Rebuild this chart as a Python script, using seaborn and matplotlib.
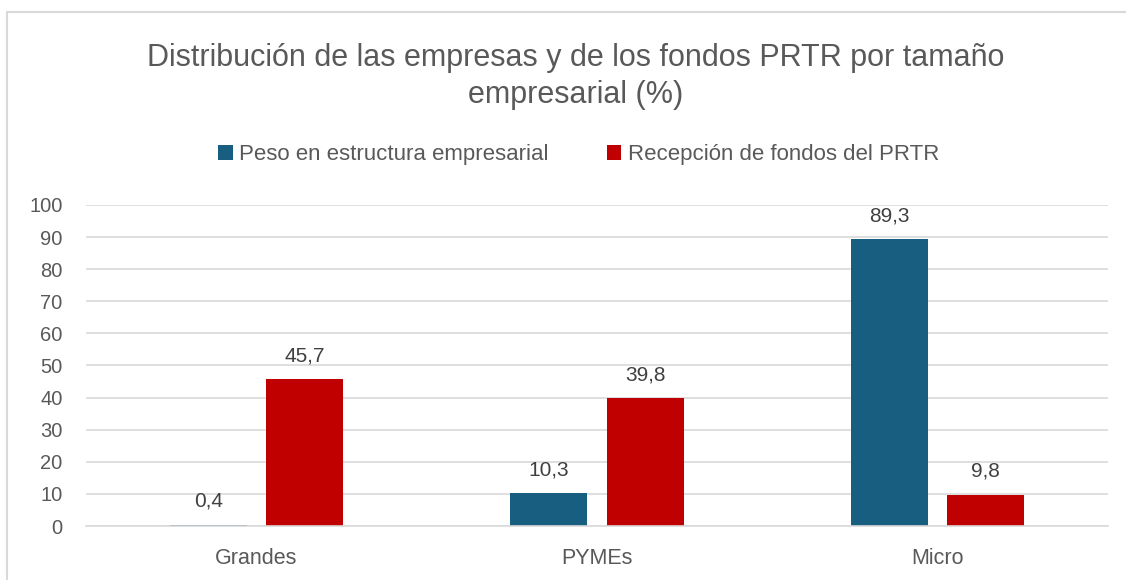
import matplotlib
matplotlib.use("Agg")
import matplotlib.pyplot as plt
import seaborn as sns
import pandas as pd
from matplotlib.patches import Rectangle, Patch

categories = ["Grandes", "PYMEs", "Micro"]
series_names = ["Peso en estructura empresarial", "Recepción de fondos del PRTR"]
peso = [0.4, 10.3, 89.3]
recepcion = [45.7, 39.8, 9.8]
yticks = [0, 10, 20, 30, 40, 50, 60, 70, 80, 90, 100]
colors = ["#175E80", "#C00000"]

df = pd.DataFrame({
    "cat": categories * 2,
    "serie": [series_names[0]] * 3 + [series_names[1]] * 3,
    "val": peso + recepcion,
})

sns.set_theme(style="white")
plt.rcParams["font.family"] = ["Liberation Sans", "DejaVu Sans"]
txt = "#595959"

fig = plt.figure(figsize=(11.26, 5.80), dpi=100)
ax = fig.add_axes([0.0764, 0.0931, 0.9076, 0.5535])

sns.barplot(data=df, x="cat", y="val", hue="serie", order=categories,
            hue_order=series_names, palette=colors, width=0.565, gap=0.2,
            ax=ax, legend=False, saturation=1, edgecolor="none")

for cont in ax.containers:
    ax.bar_label(cont, labels=[f"{v:.1f}".replace(".", ",") for v in cont.datavalues],
                 padding=10, fontsize=15, color="#404040")

ax.set_ylim(0, 100)
ax.set_yticks(yticks)
ax.set_xlim(-0.5, 2.5)
ax.set_xlabel("")
ax.set_ylabel("")
ax.yaxis.grid(True, color="#D9D9D9", linewidth=1.2)
ax.set_axisbelow(True)
for s in ["top", "right", "left"]:
    ax.spines[s].set_visible(False)
ax.spines["bottom"].set_color("#D9D9D9")
ax.spines["bottom"].set_linewidth(1.2)
ax.tick_params(axis="y", labelsize=14.5, colors=txt, length=0, pad=17)
ax.tick_params(axis="x", labelsize=15.5, colors=txt, length=0, pad=16)

fig.text(0.511, 0.868, "Distribución de las empresas y de los fondos PRTR por tamaño\nempresarial (%)",
         ha="center", va="center", fontsize=22, color=txt, linespacing=1.3)

handles = [Patch(facecolor=c, edgecolor="none") for c in colors]
fig.legend(handles, series_names, loc="center", bbox_to_anchor=(0.514, 0.733), ncol=2,
           frameon=False, fontsize=16, labelcolor=txt, handlelength=0.65, handleheight=0.65,
           handletextpad=0.3, columnspacing=2.6)

fig.patches.append(Rectangle((7 / 1126, -0.05), 1.2, 1 - 12 / 580 + 0.05,
                             transform=fig.transFigure, fill=False,
                             edgecolor="#D9D9D9", linewidth=1.5, zorder=0))

fig.savefig("out.png", dpi=100, facecolor="white")
